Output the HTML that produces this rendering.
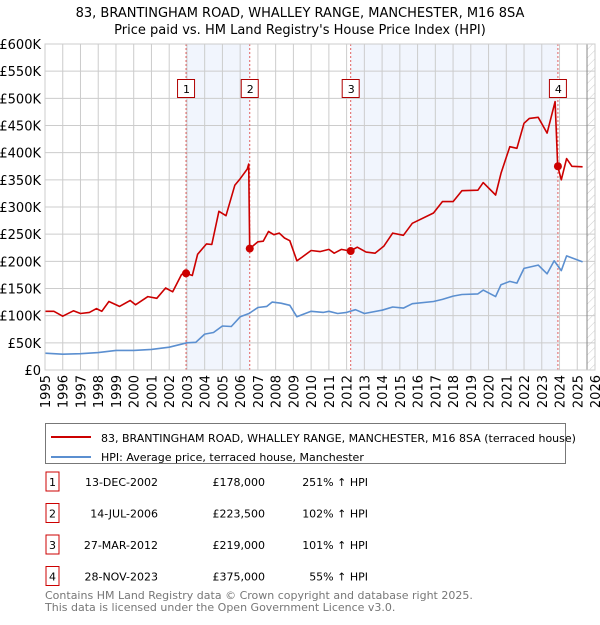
<!DOCTYPE html>
<html><head><meta charset="utf-8">
<style>
body{margin:0;background:#fff;font-family:"Liberation Sans","DejaVu Sans",sans-serif;}
svg text{font-family:"DejaVu Sans","Liberation Sans",sans-serif;}
</style></head>
<body>
<svg id="c" width="600" height="620" xmlns="http://www.w3.org/2000/svg">
<defs><pattern id="hatch" width="6" height="6" patternUnits="userSpaceOnUse" patternTransform="rotate(45)"><line x1="0" y1="0" x2="0" y2="6" stroke="#ccc" stroke-width="1"/></pattern></defs>
<text x="300" y="17" text-anchor="middle" font-size="13" fill="#000">83, BRANTINGHAM ROAD, WHALLEY RANGE, MANCHESTER, M16 8SA</text>
<text x="300" y="34" text-anchor="middle" font-size="13" fill="#000">Price paid vs. HM Land Registry's House Price Index (HPI)</text>
<g id="plot"></g>
<g>
<rect x="45.5" y="423.5" width="520" height="40" fill="#fff" stroke="#777"/>
<line x1="51" y1="437" x2="91" y2="437" stroke="#cc0000" stroke-width="2"/>
<text x="101" y="442" font-size="11">83, BRANTINGHAM ROAD, WHALLEY RANGE, MANCHESTER, M16 8SA (terraced house)</text>
<line x1="51" y1="457" x2="91" y2="457" stroke="#5b8fd0" stroke-width="2"/>
<text x="101" y="461" font-size="11">HPI: Average price, terraced house, Manchester</text>
</g>
<g id="table" font-size="11"></g>
<text x="45" y="599" font-size="11" fill="#777">Contains HM Land Registry data © Crown copyright and database right 2025.</text>
<text x="45" y="611" font-size="11" fill="#777">This data is licensed under the Open Government Licence v3.0.</text>
</svg>
<script>
const yTicks=[0,50,100,150,200,250,300,350,400,450,500,550,600];
const yTickLabels=["£0","£50K","£100K","£150K","£200K","£250K","£300K","£350K","£400K","£450K","£500K","£550K","£600K"];
const xYears=[1995,1996,1997,1998,1999,2000,2001,2002,2003,2004,2005,2006,2007,2008,2009,2010,2011,2012,2013,2014,2015,2016,2017,2018,2019,2020,2021,2022,2023,2024,2025,2026];
const hpiT=[1995,1996,1997,1998,1999,2000,2001,2002,2003,2003.5,2004,2004.5,2005,2005.5,2006,2006.5,2007,2007.5,2007.8,2008.3,2008.8,2009.2,2009.5,2010,2010.7,2011,2011.5,2012,2012.5,2013,2014,2014.6,2015.2,2015.7,2016.9,2017.4,2018,2018.5,2019.4,2019.7,2020.4,2020.7,2021.2,2021.6,2022,2022.8,2023.3,2023.7,2024.1,2024.4,2025.3];
const hpiV=[31,29,30,32,36,36,38,42,50,51,66,69,81,80,98,104,115,117,125,123,119,98,102,108,106,108,104,106,111,104,110,116,114,122,126,130,136,139,140,147,135,157,163,160,187,193,177,201,183,210,199];
const priceT=[1995,1995.5,1996,1996.6,1997,1997.5,1997.9,1998.2,1998.6,1999.2,1999.8,2000.1,2000.8,2001.3,2001.8,2002.2,2002.7,2002.95,2003.3,2003.6,2004.1,2004.4,2004.8,2005.2,2005.7,2006,2006.4,2006.48,2006.54,2007,2007.3,2007.6,2007.9,2008.2,2008.5,2008.8,2009.2,2009.5,2010,2010.5,2011,2011.3,2011.7,2012.2,2012.6,2013.1,2013.6,2014.1,2014.6,2015.2,2015.7,2016.9,2017.4,2018,2018.5,2019.4,2019.7,2020.4,2020.7,2021.2,2021.6,2022,2022.3,2022.8,2023.3,2023.75,2023.9,2024.1,2024.4,2024.7,2025.3];
const priceV=[108,108,99,109,104,106,113,108,126,117,128,120,135,132,151,144,176,178,174,213,232,231,292,284,340,352,370,379,223.5,236,237,255,249,252,243,238,201,208,220,218,222,215,222,219,226,217,215,228,252,248,270,289,310,310,330,331,345,322,362,411,408,454,463,465,436,494,375,350,389,375,374];
const saleT=[2002.95,2006.54,2012.23,2023.91];
const saleV=[178,223.5,219,375];
const saleLabels=["1","2","3","4"];
const saleDates=["13-DEC-2002","14-JUL-2006","27-MAR-2012","28-NOV-2023"];
const salePrices=["£178,000","£223,500","£219,000","£375,000"];
const saleHpi=["251% \u2191 HPI","102% \u2191 HPI","101% \u2191 HPI","55% \u2191 HPI"];

const NS="http://www.w3.org/2000/svg";
const X0=45,X1=595,Y0=370,Y1=44;
const xs=t=>X0+(t-1995)/(2026-1995)*(X1-X0);
const ys=v=>Y0-v/600*(Y0-Y1);
const plot=document.getElementById('plot');
function mk(tag,attrs,parent){const e=document.createElementNS(NS,tag);for(const k in attrs)e.setAttribute(k,attrs[k]);(parent||plot).appendChild(e);return e;}
// shading
for(const [a,b] of [[0,1],[2,3]]){
 const r=mk('rect',{x:xs(saleT[a]),y:Y1,width:xs(saleT[b])-xs(saleT[a]),height:Y0-Y1,fill:'#eef3fc',opacity:0.8});
 
 
}
// hatch future
const hx=xs(2025.55);
const h=mk('rect',{x:hx,y:Y1,width:X1-hx,height:Y0-Y1,fill:'url(#hatch)'});


// grid
yTicks.forEach((v,i)=>{
 const l=mk('line',{x1:X0,x2:X1,y1:ys(v),y2:ys(v),stroke:'#ccc','stroke-width':1});
 
 
 const t=mk('text',{x:X0-4,y:ys(v)+5,'text-anchor':'end','font-size':13,fill:'#000'});
 t.textContent=yTickLabels[i];
 
 
});
xYears.forEach(yr=>{
 const l=mk('line',{x1:xs(yr),x2:xs(yr),y1:Y1,y2:Y0,stroke:'#ccc','stroke-width':1});
 
 
 const t=mk('text',{x:0,y:0,'text-anchor':'end','font-size':13,fill:'#000',transform:`translate(${xs(yr)+5},${Y0+5}) rotate(-90)`});
 t.textContent=yr;
 
 
});
const vl=mk('line',{x1:hx,x2:hx,y1:Y1,y2:Y0,stroke:'#888','stroke-width':1});


// sale vlines
saleT.forEach(t=>{
 const l=mk('line',{x1:xs(t),x2:xs(t),y1:Y1,y2:Y0,stroke:'#e06060','stroke-width':1,'stroke-dasharray':'2,2'});
 
 
});
function path(T,V,col,name){
 const d=T.map((t,i)=>(i?'L':'M')+xs(t).toFixed(1)+','+ys(V[i]).toFixed(1)).join('');
 const p=mk('path',{d:d,fill:'none',stroke:col,'stroke-width':1.6,'stroke-linejoin':'round'});
 
 
}
path(hpiT,hpiV,'#5b8fd0','hpi-line');
path(priceT,priceV,'#cc0000','price-paid-line');
saleT.forEach((t,i)=>{
 const c=mk('circle',{cx:xs(t),cy:ys(saleV[i]),r:4,fill:'#cc0000'});
 
 
 const bx=xs(t)-8;
 const r=mk('rect',{x:bx-0.5,y:79.5,width:17,height:18,fill:'#fff',stroke:'#b00000'});
 
 
 const tx=mk('text',{x:xs(t)+0.5,y:93,'text-anchor':'middle','font-size':11});
 tx.textContent=saleLabels[i];
 
 
});
mk('rect',{x:X0,y:Y1,width:X1-X0,height:Y0-Y1,fill:'none',stroke:'#ccc'});
// table
const tb=document.getElementById('table');
saleLabels.forEach((s,i)=>{
 const y=486+i*31.5;
 const r=mk('rect',{x:46,y:y-14,width:13,height:19,fill:'#fff',stroke:'#cc0000'},tb);
 
 
 const vals=[[s,52.5,'middle'],[saleDates[i],158,'end'],[salePrices[i],265,'end'],[saleHpi[i],368,'end']];
 vals.forEach(([txt,x,a],j)=>{
  const t=mk('text',{x:x,y:y,'text-anchor':a,'font-size':11},tb);
  t.textContent=txt;
  
  
 });
});
</script>
</body></html>
